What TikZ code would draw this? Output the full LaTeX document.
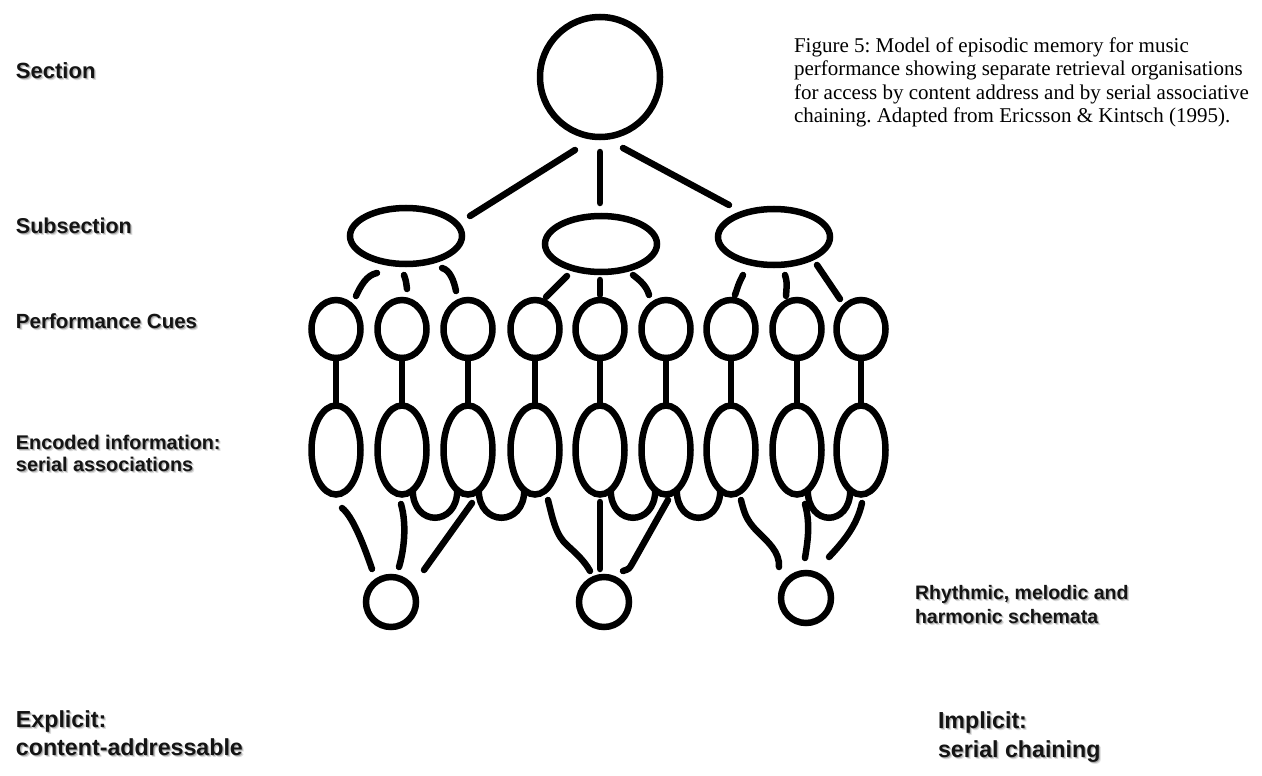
\documentclass[tikz,border=0pt]{standalone}
\usepackage{fontspec}
\setmainfont{Liberation Serif}
\newfontfamily\labfont{Liberation Sans}
\usetikzlibrary{shapes.geometric}
\frenchspacing
\newcommand\shl[6]{%
  \node[labsh,font=\labfont\bfseries\fontsize{#4}{#5}\selectfont,xshift=2pt,yshift=-2.8pt,opacity=0.22] at (#2,#3) {#6};
  \node[labsh,font=\labfont\bfseries\fontsize{#4}{#5}\selectfont,xshift=1pt,yshift=-1.6pt,opacity=0.45] at (#2,#3) {#6};
  \node[lab,font=\labfont\bfseries\fontsize{#4}{#5}\selectfont] (#1) at (#2,#3) {#6};}
\begin{document}
\begin{tikzpicture}[x=1pt,y=-1pt,
  every node/.style={inner sep=0pt,outer sep=0pt},
  ln/.style={line width=6.5pt,line cap=round},
  topc/.style={draw,line width=6.5pt,circle,minimum size=120pt},
  subell/.style={draw,line width=6.5pt,ellipse,minimum width=112pt,minimum height=56pt},
  cue/.style={draw,line width=6.5pt,ellipse,minimum width=49pt,minimum height=58pt},
  enc/.style={draw,line width=6.5pt,ellipse,minimum width=49pt,minimum height=89pt},
  sch/.style={draw,line width=6.5pt,circle,minimum size=50pt},
  lab/.style={anchor=base west,align=left,text=black!92},
  labsh/.style={anchor=base west,align=left,text=black!60},
  captext/.style={anchor=base west,align=left,font=\fontsize{21}{23.5}\selectfont}]
\fill[white] (0,0) rectangle (1262,776);
\useasboundingbox (0,0) rectangle (1262,776);

% nodes
\node[topc] (top) at (600,77) {};
\node[subell] (sub1) at (406,236) {};
\node[subell] (sub2) at (601,244) {};
\node[subell] (sub3) at (774,237) {};
\foreach \i/\x in {1/336,2/402,3/468,4/535,5/600,6/666,7/731,8/797,9/861}{
  \node[cue] (c\i) at (\x,329) {};
  \node[enc] (e\i) at (\x,450) {};
}
\node[sch] (s1) at (391,602) {};
\node[sch] (s2) at (604,602) {};
\node[sch] (s3) at (806,598) {};

% connector end points
\coordinate (ta0) at (575,150); \coordinate (ta1) at (470,216);
\coordinate (tb0) at (600,152); \coordinate (tb1) at (600,203);
\coordinate (tc0) at (623,148); \coordinate (tc1) at (729,205);
\coordinate (p10) at (377,273); \coordinate (p11) at (356,296);
\coordinate (p20) at (404,275); \coordinate (p21) at (407,289);
\coordinate (p30) at (442,268); \coordinate (p31) at (456,291);
\coordinate (p40) at (567,276); \coordinate (p41) at (546,297);
\coordinate (p50) at (600,280); \coordinate (p51) at (600,295);
\coordinate (p60) at (633,275); \coordinate (p61) at (649,295);
\coordinate (p70) at (743,275); \coordinate (p71) at (735,295);
\coordinate (p80) at (785,275); \coordinate (p81) at (786,296);
\coordinate (p90) at (817,265); \coordinate (p91) at (840,299);
\coordinate (q10) at (342,508); \coordinate (q11) at (372,569);
\coordinate (q20) at (401,504); \coordinate (q21) at (399,567);
\coordinate (q30) at (472,503); \coordinate (q31) at (424,570);
\coordinate (q40) at (548,500); \coordinate (q4m) at (568,546); \coordinate (q41) at (590,571);
\coordinate (q50) at (600,502); \coordinate (q51) at (600,569);
\coordinate (q60) at (668,500); \coordinate (q6m) at (632,564); \coordinate (q61) at (623,571);
\coordinate (q70) at (741,500); \coordinate (q7m) at (757,531); \coordinate (q71) at (779,567);
\coordinate (q80) at (805,504); \coordinate (q81) at (805,558);
\coordinate (q90) at (862,503); \coordinate (q91) at (829,557);

% section -> subsections
\draw[ln] (ta0) -- (ta1);
\draw[ln] (tb0) -- (tb1);
\draw[ln] (tc0) -- (tc1);
% subsections -> cues
\draw[ln] (p10) .. controls (367,275) and (361,285) .. (p11);
\draw[ln] (p20) .. controls (406,281) .. (p21);
\draw[ln] (p30) .. controls (450,270) and (454,281) .. (p31);
\draw[ln] (p40) -- (p41);
\draw[ln] (p50) -- (p51);
\draw[ln] (p60) .. controls (641,281) and (647,287) .. (p61);
\draw[ln] (p70) .. controls (739,283) .. (p71);
\draw[ln] (p80) .. controls (787,282) .. (p81);
\draw[ln] (p90) -- (p91);
% cues -> encoded
\foreach \i in {1,...,9}{ \draw[ln] (c\i) -- (e\i); }
% serial chaining arcs
\foreach \a/\b in {2/3,3/4,5/6,6/7,8/9}{
  \draw[ln] (e\a.-75) .. controls +(0,37) and +(0,37) .. (e\b.-105);
}
% encoded -> schemata
\draw[ln] (q10) .. controls (352,516) and (362,540) .. (q11);
\draw[ln] (q20) .. controls (407,525) and (404,550) .. (q21);
\draw[ln] (q30) -- (q31);
\draw[ln] (q40) .. controls (553,520) and (556,536) .. (q4m) .. controls (578,555) and (585,562) .. (q41);
\draw[ln] (q50) -- (q51);
\draw[ln] (q60) -- (q6m) .. controls (629,569) .. (q61);
\draw[ln] (q70) .. controls (744,512) and (746,520) .. (q7m) .. controls (768,542) and (780,552) .. (q71);
\draw[ln] (q80) .. controls (811,525) and (807,545) .. (q81);
\draw[ln] (q90) .. controls (857,525) and (845,540) .. (q91);

% labels (multi-line nodes: base anchor = last line)
\shl{lsec}{16}{78}{22}{24}{Section}
\shl{lsub}{16}{233}{21.5}{24}{Subsection}
\shl{lcue}{16}{328}{20.5}{24}{Performance Cues}
\shl{lenc}{16}{471}{19.8}{22}{Encoded information:\\serial associations}
\shl{lsch}{915}{623}{19.5}{24}{Rhythmic, melodic and\\harmonic schemata}
\shl{lexp}{16}{755}{23.2}{28}{Explicit:\\content-addressable}
\shl{limp}{938}{757}{23.2}{29}{Implicit:\\serial chaining}

\node[captext] (caption) at (794,122.5) {Figure 5: Model of episodic memory for music\\performance showing separate retrieval organisations\\for access by content address and by serial associative\\chaining. Adapted from Ericsson \& Kintsch (1995).};
\end{tikzpicture}
\end{document}
